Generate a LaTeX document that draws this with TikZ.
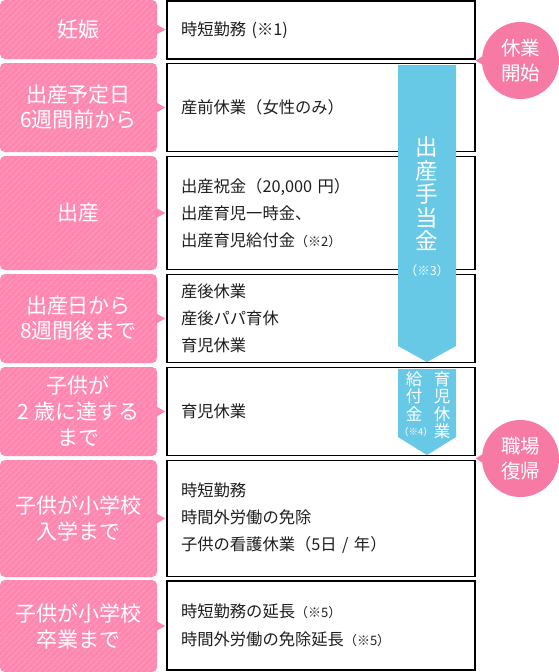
\documentclass[tikz,border=0pt]{standalone}
\usepackage{fontspec}
\setmainfont{Noto Sans CJK JP}
\usetikzlibrary{patterns.meta}
\definecolor{pinkbase}{HTML}{FF86AE}
\definecolor{pinkline}{HTML}{FF9CC0}
\definecolor{pinkcirc}{HTML}{F77AA5}
\definecolor{bluearrow}{HTML}{68C9E6}
\definecolor{txt}{HTML}{1E1E1E}
\begin{document}
\begin{tikzpicture}[x=1pt,y=-1pt,
  pinkbox/.style={rectangle, rounded corners=5pt, minimum width=157pt, inner sep=0pt,
    preaction={fill=pinkbase}, pattern={Lines[angle=45,distance=4pt,line width=1.1pt]},
    pattern color=pinkline, text=white, font=\fontsize{21}{25}\selectfont, align=center},
  pinktip/.style={fill=pinkbase},
  wbox/.style={rectangle, draw=black, line width=1.7pt, fill=white, inner ysep=0pt,
    inner xsep=14pt, text width=280pt, align=left, text=txt,
    font=\fontsize{16.3}{27}\selectfont},
  bubble/.style={circle, fill=pinkcirc, minimum size=77pt, inner sep=0pt, text=white,
    align=center, font=\fontsize{19.5}{25}\selectfont},
  vtext/.style={text=white, align=center, inner sep=0pt}
]
\useasboundingbox (0,0) rectangle (559,672);

% ---------- white boxes ----------
\node[wbox, minimum height=58pt] (w1) at (321,30) {時短勤務 (※1)};
\node[wbox, minimum height=88pt] (w2) at (321,107.5) {産前休業（女性のみ）};
\node[wbox, minimum height=113pt] (w3) at (321,213) {出産祝金（20,000 円）\\出産育児一時金、\\出産育児給付金{\fontsize{13}{13}\selectfont（※2）}};
\node[wbox, minimum height=88pt] (w4) at (321,318.5) {産後休業\\産後パパ育休\\育児休業};
\node[wbox, minimum height=88pt] (w5) at (321,411.5) {育児休業};
\node[wbox, minimum height=116pt] (w6) at (321,518.5) {時短勤務\\時間外労働の免除\\子供の看護休業（5日 / 年）};
\node[wbox, minimum height=89pt, font=\fontsize{16.3}{28}\selectfont] (w7) at (321,625.5) {時短勤務の延長{\fontsize{13}{13}\selectfont（※5）}\\時間外労働の免除延長{\fontsize{13}{13}\selectfont（※5）}};

% ---------- pink boxes ----------
\node[pinkbox, minimum height=59pt] (p1) at (78.5,29.5) {妊娠};
\node[pinkbox, minimum height=89pt] (p2) at (78.5,107.5) {出産予定日\\6週間前から};
\node[pinkbox, minimum height=114pt] (p3) at (78.5,213) {出産};
\node[pinkbox, minimum height=89pt] (p4) at (78.5,318.5) {出産日から\\8週間後まで};
\node[pinkbox, minimum height=89pt, font=\fontsize{21}{26}\selectfont] (p5) at (78.5,411.5) {子供が\\2 歳に達する\\まで};
\node[pinkbox, minimum height=117pt, font=\fontsize{21}{26}\selectfont] (p6) at (78.5,518.5) {子供が小学校\\入学まで};
\node[pinkbox, minimum height=92pt, font=\fontsize{21}{26}\selectfont] (p7) at (78.5,626) {子供が小学校\\卒業まで};

\foreach \p in {p1,p2,p3,p4,p5,p6,p7}{
  \fill[pinktip] ([yshift=5pt,xshift=-1pt]\p.east) -- ([xshift=8pt]\p.east) -- ([yshift=-5pt,xshift=-1pt]\p.east) -- cycle;
}

% ---------- blue arrows ----------
\fill[bluearrow] (398,65) -- (456,65) -- (456,346) -- (427,362) -- (398,346) -- cycle;
\node[vtext, font=\fontsize{22.5}{23.5}\selectfont] (a1) at (427,194) {出\\産\\手\\当\\金};
\node[vtext, font=\fontsize{12.5}{12.5}\selectfont] (a1n) at (427,271) {（※3）};

\fill[bluearrow] (398,369) -- (456,369) -- (456,437) -- (427,455) -- (398,437) -- cycle;
\node[vtext, font=\fontsize{16.5}{17.5}\selectfont] (a2r) at (442,405) {育\\児\\休\\業};
\node[vtext, font=\fontsize{16.5}{17.5}\selectfont] (a2l) at (414,396) {給\\付\\金};
\node[vtext, font=\fontsize{9.5}{9.5}\selectfont] (a2n) at (416,432) {（※4）};

% ---------- bubbles ----------
\node[bubble] (c1) at (520.5,60.5) {休業\\開始};
\fill[pinkcirc] ([xshift=-6pt]c1.west) -- ([xshift=5pt,yshift=7pt]c1.west) -- ([xshift=5pt,yshift=-7pt]c1.west) -- cycle;
\node[bubble] (c2) at (520.5,458.5) {職場\\復帰};
\fill[pinkcirc] ([xshift=-6pt]c2.west) -- ([xshift=5pt,yshift=7pt]c2.west) -- ([xshift=5pt,yshift=-7pt]c2.west) -- cycle;
\end{tikzpicture}
\end{document}
